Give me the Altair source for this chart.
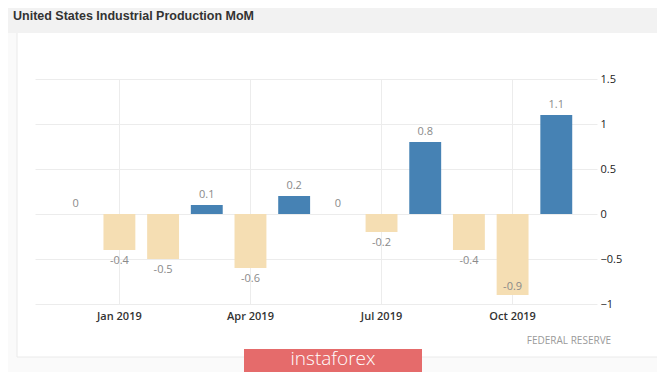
import altair as alt
import pandas as pd

months = ["Dec 2018", "Jan 2019", "Feb 2019", "Mar 2019", "Apr 2019", "May 2019",
          "Jun 2019", "Jul 2019", "Aug 2019", "Sep 2019", "Oct 2019", "Nov 2019"]
values = [0, -0.4, -0.5, 0.1, -0.6, 0.2, 0, -0.2, 0.8, -0.4, -0.9, 1.1]
x_tick_labels = ["Jan 2019", "Apr 2019", "Jul 2019", "Oct 2019"]
y_ticks = [-1, -0.5, 0, 0.5, 1, 1.5]
title_text = "United States Industrial Production MoM"
source_text = "FEDERAL RESERVE"
logo_text = "instaforex"

df = pd.DataFrame({"month": months, "value": values})
df["label"] = [("%g" % v) for v in values]

FONT = "Open Sans"

x_scale = alt.Scale(domain=months, paddingInner=0.27, paddingOuter=0.567)
y_scale = alt.Scale(domain=[-1, 1.5], nice=False, zero=False)

x_enc = alt.X("month:N", scale=x_scale, sort=months, title=None,
              axis=alt.Axis(values=x_tick_labels, bandPosition=0.5, grid=True,
                            gridColor="#ececec", domain=False, ticks=False,
                            labelAngle=0, labelPadding=6, labelFont=FONT,
                            labelFontSize=11, labelFontWeight=600, labelColor="#333333"))
y_enc = alt.Y("value:Q", scale=y_scale, title=None,
              axis=alt.Axis(orient="right", values=y_ticks, format=".1~f", grid=True,
                            gridColor="#ececec", domain=False, ticks=False,
                            labelPadding=3, labelFont=FONT, labelFontSize=11,
                            labelColor="#222222"))

base = alt.Chart(df)
xs = alt.X("month:N", scale=x_scale, sort=months)
ys = alt.Y("value:Q", scale=y_scale)

bars = base.mark_bar().encode(
    x=x_enc,
    y=y_enc,
    y2=alt.datum(0),
    color=alt.condition("datum.value > 0", alt.value("#4682b4"), alt.value("#f5deb3")),
)

lab_pos = base.transform_filter("datum.value >= 0").mark_text(
    dy=-10, font=FONT, fontSize=11, color="#8a8a8a"
).encode(x=xs, y=ys, text="label:N")

lab_neg = base.transform_filter("datum.value < 0 && datum.value > -0.8").mark_text(
    dy=11, font=FONT, fontSize=11, color="#8a8a8a"
).encode(x=xs, y=ys, text="label:N")

lab_inside = base.transform_filter("datum.value <= -0.8").mark_text(
    dy=-8, font=FONT, fontSize=11, color="#8a8a8a"
).encode(x=xs, y=ys, text="label:N")

one = pd.DataFrame({"t": [title_text], "s": [source_text], "l": [logo_text]})
deco = alt.Chart(one)

header = deco.mark_rect(color="#f2f2f2").encode(
    x=alt.value(-27), x2=alt.value(622), y=alt.value(-71), y2=alt.value(-46))
title = deco.mark_text(align="left", baseline="middle", font="Liberation Sans",
                       fontSize=12.5, fontWeight="bold", color="#333333").encode(
    x=alt.value(-22), y=alt.value(-63), text="t:N")

left_bg = deco.mark_rect(color="#fafafa").encode(
    x=alt.value(-27), x2=alt.value(-18), y=alt.value(-46), y2=alt.value(293))
bottom_bg = deco.mark_rect(color="#fafafa").encode(
    x=alt.value(-27), x2=alt.value(622), y=alt.value(278), y2=alt.value(293))
left_border = deco.mark_rule(color="#eaeaea").encode(
    x=alt.value(-18), y=alt.value(-46), y2=alt.value(278))
bottom_border = deco.mark_rule(color="#eaeaea").encode(
    x=alt.value(-18), x2=alt.value(622), y=alt.value(278))

source = deco.mark_text(align="center", baseline="middle", font=FONT, fontSize=10,
                        color="#9a9a9a").encode(
    x=alt.value(534), y=alt.value(262), text="s:N")

logo_rect = deco.mark_rect(color="#e56b6b").encode(
    x=alt.value(209), x2=alt.value(387), y=alt.value(270), y2=alt.value(293))
logo_txt = deco.mark_text(align="center", baseline="middle", font=FONT, fontSize=19,
                          fontWeight=300, color="#ffffff").encode(
    x=alt.value(298), y=alt.value(280), text="l:N")

chart = alt.layer(
    header, title, left_bg, bottom_bg, left_border, bottom_border,
    bars, lab_pos, lab_neg, lab_inside, source, logo_rect, logo_txt
).properties(
    width=562, height=225,
    padding={"left": 27, "top": 71, "right": 60, "bottom": 68},
    autosize=alt.AutoSizeParams(type="none"),
    background="#ffffff",
).configure_view(stroke=None)

chart.save("out.html", embed_options={"renderer": "svg", "actions": False})
